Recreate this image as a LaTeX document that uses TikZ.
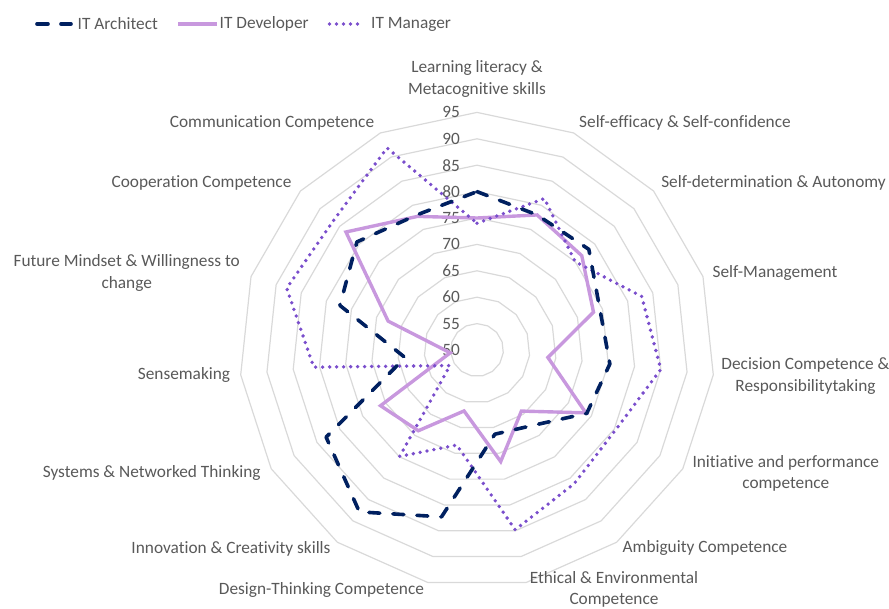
\documentclass[tikz,border=0pt]{standalone}
\usepackage{fontspec}
\setmainfont{Carlito}[Ligatures=NoCommon]
\usetikzlibrary{positioning}
\usepackage{xcolor}
\definecolor{archblue}{RGB}{0,32,96}
\definecolor{devlilac}{RGB}{200,152,222}
\definecolor{mgrpurple}{RGB}{122,78,204}
\definecolor{gridgray}{RGB}{217,217,217}
\definecolor{labelgray}{RGB}{89,89,89}

\begin{document}
\begin{tikzpicture}[x=1pt, y=-1pt,
    ring/.style={draw=gridgray, line width=1.2pt, line join=round},
    arch/.style={draw=archblue, line width=3.6pt, line cap=round, line join=round, dash pattern=on 11pt off 13pt},
    dev/.style={draw=devlilac, line width=3.4pt, line join=miter},
    mgr/.style={draw=mgrpurple, line width=3.8pt, line cap=round, dash pattern=on 0pt off 7pt},
    cat/.style={text=labelgray, align=center, inner sep=0pt, font=\fontsize{17.3}{21.7}\selectfont},
    tick/.style={text=labelgray, anchor=east, inner sep=0pt, font=\fontsize{17.3}{21.7}\selectfont},
    leg/.style={text=labelgray, anchor=west, inner sep=1pt, font=\fontsize{17.3}{21.7}\selectfont}]
    \useasboundingbox (0,0) rectangle (889,608);
    \coordinate (c) at (477,350);

    \foreach \v in {55,60,...,95}
        \draw[ring, shift={(c)}] (-90:{(\v-50)*5.28}) \foreach \k in {1,...,14} { -- ({24*\k-90}:{(\v-50)*5.28}) } -- cycle;
    \foreach \v in {50,55,...,95}
        \node[tick] (t\v) at (460,{350-(\v-50)*5.28}) {\v};

    \draw[dev, shift={(c)}] (-90:{(75-50)*5.28})
        \foreach \val [count=\k] in {78,76.7,73.2,63.5,73.8,64.3,71.6,61.8,68.9,71.1,55.1,67.7,83.4,77.7}
        { -- ({24*\k-90}:{(\val-50)*5.28}) } -- cycle;
    \draw[mgr, shift={(c)}] (-90:{(74-50)*5.28})
        \foreach \val [count=\k] in {81.4,75,82.8,85,80.3,81.3,84.8,68.4,74.9,55.9,81.1,87.9,86.6,91.9}
        { -- ({24*\k-90}:{(\val-50)*5.28}) } -- cycle;
    \draw[arch, shift={(c)}] (-90:{(80-50)*5.28})
        \foreach \val [count=\k] in {78,78.5,74.5,75.3,74,67.7,66.3,82.3,87.9,83,63.7,77.3,80.6,78}
        { -- ({24*\k-90}:{(\val-50)*5.28}) } -- cycle;

    \node[cat] (l0) at (477,79) {Learning literacy \&\\Metacognitive skills};
    \node[cat] (l1) at (685,123) {Self-efficacy \& Self-confidence};
    \node[cat] (l2) at (773.5,183) {Self-determination \& Autonomy};
    \node[cat] (l3) at (775,272.7) {Self-Management};
    \node[cat] (l4) at (805.5,376) {Decision Competence \&\\Responsibilitytaking};
    \node[cat] (l5) at (785.8,473.3) {Initiative and performance\\competence};
    \node[cat] (l6) at (705,548) {Ambiguity Competence};
    \node[cat] (l7) at (614,589.5) {Ethical \& Environmental\\Competence};
    \node[cat] (l8) at (321.5,590) {Design-Thinking Competence};
    \node[cat] (l9) at (231,549) {Innovation \& Creativity skills};
    \node[cat] (l10) at (151.7,473.3) {Systems \& Networked Thinking};
    \node[cat] (l11) at (184,375) {Sensemaking};
    \node[cat] (l12) at (126.7,273) {Future Mindset \& Willingness to\\change};
    \node[cat] (l13) at (201.5,183) {Cooperation Competence};
    \node[cat] (l14) at (272,123) {Communication Competence};

    \node[leg] (nArch) at (76.5,24) {IT Architect};
    \node[leg] (nDev) at (218.5,24) {IT Developer};
    \node[leg] (nMgr) at (370,24) {IT Manager};
    \coordinate (sArch) at (37,24);
    \coordinate (sDev) at (178,24);
    \coordinate (sMgr) at (329.5,24);
    \draw[arch] (sArch) -- ++(34,0);
    \draw[dev] (sDev) -- ++(38.5,0);
    \draw[mgr] (sMgr) -- ++(33.5,0);
\end{tikzpicture}
\end{document}
